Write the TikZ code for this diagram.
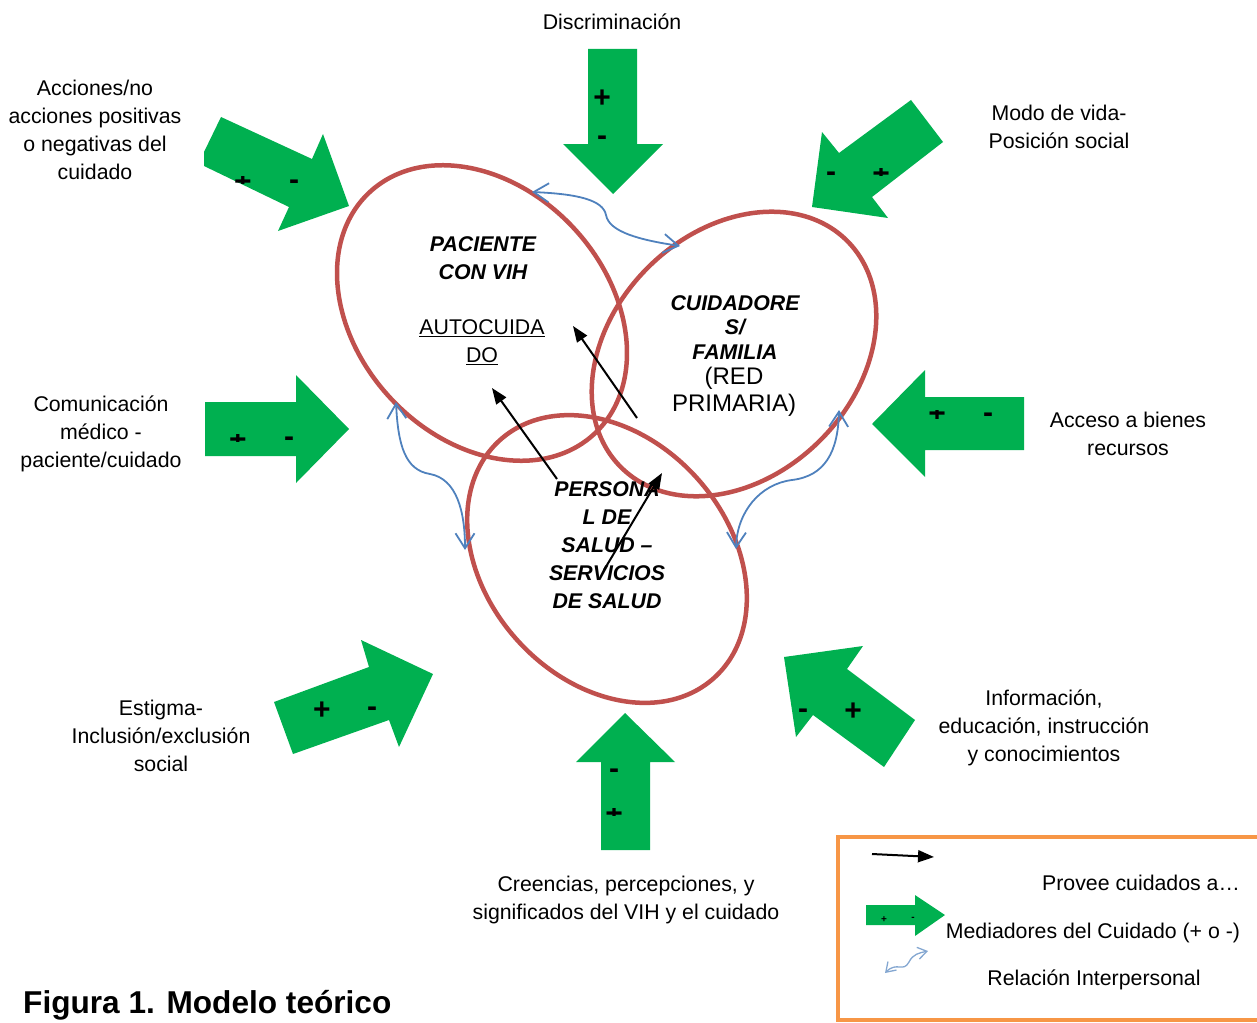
\documentclass[tikz,border=0pt]{standalone}
\usepackage{fontspec}
\setmainfont{Liberation Sans}
\usetikzlibrary{arrows.meta,shapes.geometric}

\definecolor{medgreen}{HTML}{00B050}
\definecolor{ringred}{HTML}{C0504D}
\definecolor{linkblue}{HTML}{4F81BD}
\definecolor{boxorange}{HTML}{F79646}

\newcommand\lblfont{\fontsize{21.3}{28}\selectfont}
\newcommand\signfont{\fontsize{30}{30}\selectfont\bfseries}

\tikzset{
  ring/.style={ellipse, draw=ringred, line width=4.5pt, inner sep=0, outer sep=0},
  lbl/.style={font=\lblfont, align=center, inner sep=0},
  actor/.style={lbl, font=\lblfont\bfseries\itshape},
  mediator/.style={fill=medgreen, draw=none},
  sign/.style={font=\signfont, anchor=base, inner sep=0},
  careline/.style={line width=2pt, -{Triangle[length=16pt,width=12pt]}},
  link/.style={draw=linkblue, line width=1.8pt,
    {Straight Barb[length=15pt,width=19pt]}-{Straight Barb[length=15pt,width=19pt]}},
}

% "+" sign whose glyph is only partly visible (a thin horizontal band)
\newcommand\bandplus[5]{%
  \begin{scope}
    \clip (#2-14,#4) rectangle (#2+14,#5);
    \node[sign] (#1) at (#2,#3+10.5) {+};
  \end{scope}}

\begin{document}
\begin{tikzpicture}[x=1pt,y=-1pt]
\useasboundingbox (0,0) rectangle (1257,1022);

% ---------- mediators (green block arrows) ----------
\fill[mediator] (221,117) -- (312,159) -- (323,134) -- (349,206) -- (278,231)
  -- (289,207) -- (204,166) -- (204,152) -- cycle;
\fill[mediator] (588,49) -- (637,49) -- (637,144) -- (663,144) -- (613,194)
  -- (563,144) -- (588,144) -- cycle;
\fill[mediator] (911,100) -- (943,142) -- (872,197) -- (888,218) -- (812,207)
  -- (822,132) -- (839,153) -- cycle;
\fill[mediator] (205,402) -- (296,402) -- (296,375) -- (349,429) -- (296,483)
  -- (296,456) -- (205,456) -- cycle;
\fill[mediator] (1024,397) -- (925,397) -- (925,370) -- (872,424) -- (925,477)
  -- (925,450) -- (1024,450) -- cycle;
\fill[mediator] (274,702) -- (369,667) -- (361,640) -- (433,674) -- (399,747)
  -- (389,720) -- (293,754) -- cycle;
\fill[mediator] (784,657) -- (863,646) -- (847,669) -- (915,720) -- (884,767)
  -- (813,715) -- (796,737) -- cycle;
\fill[mediator] (601,850) -- (601,762) -- (576,762) -- (625,713) -- (675,762)
  -- (650,762) -- (650,850) -- cycle;

% signs on the mediators
\bandplus{s1p}{243}{181}{176}{183.5}
\node[sign] (s1m) at (294,189) {-};
\node[sign] (s2p) at (602,107.5) {+};
\node[sign] (s2m) at (602,146) {-};
\node[sign] (s3m) at (831,181) {-};
\bandplus{s3p}{881}{173}{168}{175.5}
\bandplus{s4p}{238}{439}{434}{441.5}
\node[sign] (s4m) at (289,446) {-};
\bandplus{s5p}{937}{413}{410.5}{418}
\node[sign] (s5m) at (988,422) {-};
\node[sign] (s6p) at (322,719.5) {+};
\node[sign] (s6m) at (372,716) {-};
\node[sign] (s7m) at (803,718) {-};
\node[sign] (s7p) at (853,720.5) {+};
\node[sign] (s8m) at (614,778) {-};
\bandplus{s8p}{614}{813}{808}{815.5}

% ---------- mediator labels ----------
\node[lbl] (tacc) at (95,130) {Acciones/no\\acciones positivas\\o negativas del\\cuidado};
\node[lbl, anchor=base] (tdis) at (612,30) {Discriminación};
\node[lbl] (tmod) at (1059,127) {Modo de vida-\\Posición social};
\node[lbl] (tcom) at (101,434) {Comunicación\\médico -\\paciente/cuidado};
\node[lbl] (tacs) at (1128,434) {Acceso a bienes\\recursos};
\node[lbl] (test) at (161,736) {Estigma-\\Inclusión/exclusión\\social};
\node[lbl] (tinf) at (1044,728) {Información,\\educación, instrucción\\y conocimientos};
\node[lbl] (tcre) at (626,900) {Creencias, percepciones, y\\significados del VIH y el cuidado};

% ---------- the three actors ----------
\node[ring, minimum width=330, minimum height=250, rotate=-47] (pac) at (482,313) {};
\node[ring, minimum width=320, minimum height=244, rotate=45] (cui) at (734,354) {};
\node[ring, minimum width=320, minimum height=242, rotate=-48] (per) at (607,559) {};

\node[actor] (tpac) at (483,258) {PACIENTE\\CON VIH};
\node[lbl] (tauto) at (482,342) {\underline{AUTOCUIDA}\\\underline{DO}};
\node[actor, font=\fontsize{21.3}{24.5}\selectfont\bfseries\itshape] (tcui) at (735,327.5) {CUIDADORE\\S/\\FAMILIA};
\node[lbl, font=\fontsize{24}{27}\selectfont] (tred) at (734,392) {(RED\\PRIMARIA)};
\node[actor] (tper) at (607,545) {PERSONA\\L DE\\SALUD –\\SERVICIOS\\DE SALUD};

% ---------- care provision (black arrows) ----------
\coordinate (c1s) at (637,418);  \coordinate (c1e) at (573,326);
\coordinate (c2s) at (557,479);  \coordinate (c2e) at (492,388);
\coordinate (c3s) at (604,570);  \coordinate (c3e) at (662,473);
\draw[careline] (c1s) -- (c1e);
\draw[careline] (c2s) -- (c2e);
\draw[careline] (c3s) -- (c3e);

% ---------- interpersonal relations (blue curves) ----------
\coordinate (r1a) at (532,192);  \coordinate (r1b) at (680,246);
\coordinate (r2a) at (396,402);  \coordinate (r2b) at (465,550);
\coordinate (r3a) at (839,410);  \coordinate (r3b) at (736,549);
\draw[link] (r1a) .. controls (578,194) and (603,200) .. (606,215)
  .. controls (609,232) and (640,240) .. (r1b);
\draw[link] (r2a) .. controls (398,445) and (405,470) .. (430,474)
  .. controls (457,479) and (465,512) .. (r2b);
\draw[link] (r3a) .. controls (838,452) and (825,476) .. (792,480)
  .. controls (760,484) and (737,512) .. (r3b);

% ---------- caption ----------
\node[font=\fontsize{31.6}{36}\selectfont\bfseries, anchor=base west, inner sep=0]
  (cap) at (23,1013) {Figura 1. Modelo teórico};

% ---------- legend ----------
\draw[boxorange, line width=4pt] (838,837) rectangle (1275,1020);
\coordinate (k1a) at (872,854); \coordinate (k1b) at (934,857);
\draw[careline] (k1a) -- (k1b);
\node[lbl, anchor=base] (k1t) at (1141,890) {Provee cuidados a…};
\fill[mediator] (866,905) -- (915,905) -- (915,895) -- (945,915) -- (915,936)
  -- (915,925) -- (866,925) -- cycle;
\node[sign, font=\fontsize{10}{10}\selectfont\bfseries] (k2p) at (884,922.5) {+};
\node[sign, font=\fontsize{10}{10}\selectfont\bfseries] (k2m) at (913,920) {-};
\node[lbl, anchor=base] (k2t) at (1093,938) {Mediadores del Cuidado (+ o -)};
\coordinate (k3a) at (885,973); \coordinate (k3b) at (928,951);
\draw[draw=linkblue!70, line width=1.3pt,
  {Straight Barb[length=9pt,width=12pt]}-{Straight Barb[length=9pt,width=12pt]}]
  (k3a) .. controls (897,961) and (903,973) .. (909,962)
  .. controls (913,954) and (919,953) .. (k3b);
\node[lbl, anchor=base] (k3t) at (1094,985) {Relación Interpersonal};
\end{tikzpicture}
\end{document}
